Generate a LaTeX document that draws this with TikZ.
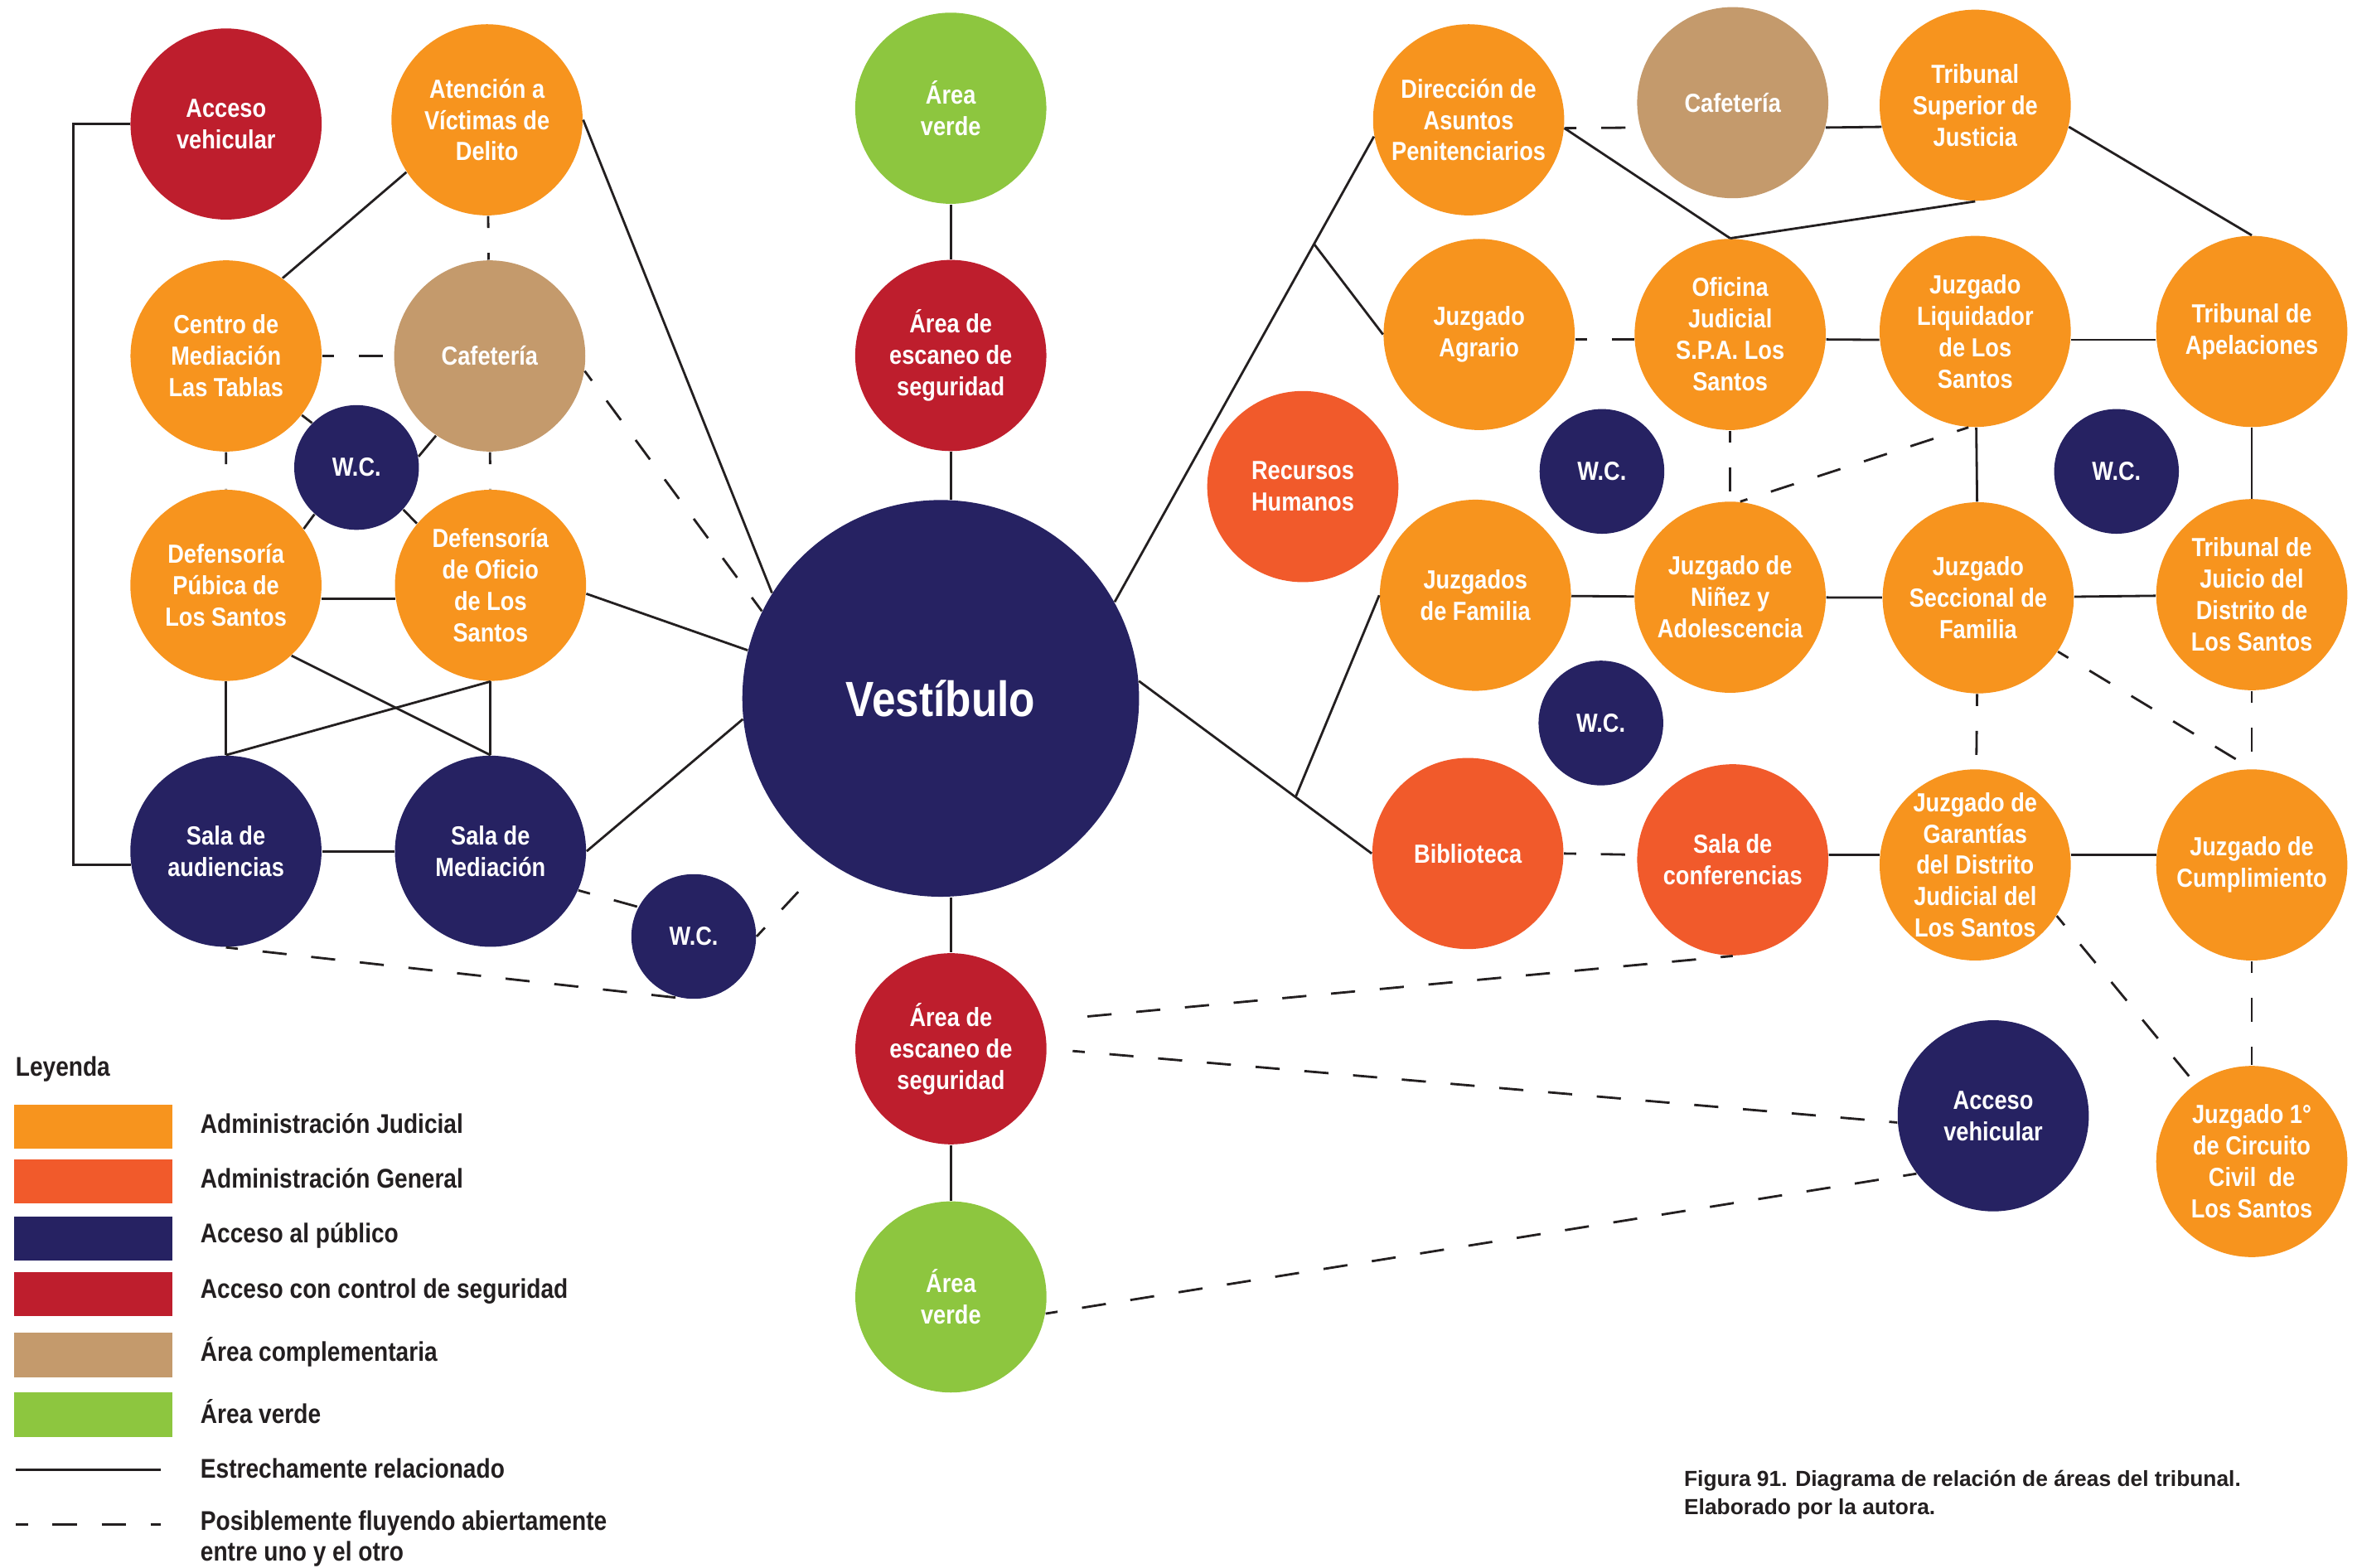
\documentclass[tikz,border=0pt]{standalone}
\usepackage{fontspec}
\usepackage{tikz}
\usetikzlibrary{calc}

\newfontfamily\areafont{Liberation Sans}[FakeStretch=0.86]
\newfontfamily\notafont{Liberation Sans}

\definecolor{colJud}{HTML}{F7941E}
\definecolor{colGen}{HTML}{F15A2B}
\definecolor{colPub}{HTML}{262262}
\definecolor{colSeg}{HTML}{BE1E2D}
\definecolor{colComp}{HTML}{C49A6C}
\definecolor{colVerde}{HTML}{8DC63F}
\definecolor{trazo}{HTML}{231F20}

\tikzset{
    area/.style={
        circle,
        inner sep=0pt,
        minimum size=2.307cm,
        align=center,
        text=white,
        font=\areafont\bfseries\fontsize{9}{10.8}\selectfont
    },
    jud/.style={area, fill=colJud},
    gen/.style={area, fill=colGen},
    pub/.style={area, fill=colPub},
    seg/.style={area, fill=colSeg},
    comp/.style={area, fill=colComp},
    verde/.style={area, fill=colVerde},
    wc/.style={pub, minimum size=1.505cm},
    rel/.style={draw=trazo, line width=0.8pt},
    flujo/.style={rel, dash pattern=on 8.3pt off 8.5pt, dash phase=4.15pt},
    muestra/.style={
        rectangle,
        inner sep=0pt,
        minimum width=1.914cm,
        minimum height=0.535cm
    },
    leyenda/.style={
        anchor=west,
        inner sep=0pt,
        align=left,
        text=trazo,
        font=\areafont\bfseries\fontsize{9.3}{10.6}\selectfont
    }
}

\begin{document}
\begin{tikzpicture}[x=0.018138cm, y=-0.018138cm]
\useasboundingbox (0,0) rectangle (1568,1043);

% bloque izquierdo
\node[seg] (accL) at (150.4,82.5) {Acceso\\vehicular};
\node[jud] (aten) at (324,79.7) {Atención a\\Víctimas de\\Delito};
\node[jud] (centro) at (150.4,236.8) {Centro de\\Mediación\\Las Tablas};
\node[comp] (cafL) at (325.8,236.8) {Cafetería};
\node[wc] (wcL) at (237.2,311) {W.C.};
\node[jud] (defP) at (150.3,389.4) {Defensoría\\Púbica de\\Los Santos};
\node[jud] (defO) at (326.3,389.4) {Defensoría\\de Oficio\\de Los\\Santos};
\node[pub] (salaAud) at (150.3,566.3) {Sala de\\audiencias};
\node[pub] (salaMed) at (326.3,566.3) {Sala de\\Mediación};
\node[wc] (wcB) at (461.5,623) {W.C.};

% eje central
\node[verde] (verdeT) at (632.5,72) {Área\\verde};
\node[seg] (escT) at (632.5,236.5) {Área de\\escaneo de\\seguridad};
\node[
    pub,
    minimum size=4.788cm,
    font=\areafont\bfseries\fontsize{17}{20}\selectfont
] (vest) at (625.8,464.6) {Vestíbulo};
\node[seg] (escB) at (632.6,697.7) {Área de\\escaneo de\\seguridad};
\node[verde] (verdeB) at (632.6,862.8) {Área\\verde};

% bloque derecho
\node[jud] (dir) at (977,79.7) {Dirección de\\Asuntos\\Penitenciarios};
\node[comp] (cafR) at (1152.7,68.3) {Cafetería};
\node[jud] (tsj) at (1314,70) {Tribunal\\Superior de\\Justicia};
\node[jud] (agr) at (984,222.5) {Juzgado\\Agrario};
\node[jud] (ofi) at (1151,222.5) {Oficina\\Judicial\\S.P.A. Los\\Santos};
\node[jud] (liq) at (1314,220.5) {Juzgado\\Liquidador\\de Los\\Santos};
\node[jud] (apel) at (1498,220.5) {Tribunal de\\Apelaciones};
\node[gen] (rrhh) at (866.7,323.7) {Recursos\\Humanos};
\node[wc] (wcR1) at (1065.7,313.6) {W.C.};
\node[wc] (wcR2) at (1408,313.6) {W.C.};
\node[jud] (fam) at (981.5,396) {Juzgados\\de Familia};
\node[jud] (nin) at (1151,397.3) {Juzgado de\\Niñez y\\Adolescencia};
\node[jud] (secc) at (1316,397.7) {Juzgado\\Seccional de\\Familia};
\node[jud] (juicio) at (1498,395.6) {Tribunal de\\Juicio del\\Distrito de\\Los Santos};
\node[wc] (wcR3) at (1065,481) {W.C.};
\node[gen] (bib) at (976.5,567.8) {Biblioteca};
\node[gen] (conf) at (1152.7,572) {Sala de\\conferencias};
\node[jud] (gar) at (1314,575.4) {Juzgado de\\Garantías\\del Distrito\\Judicial del\\Los Santos};
\node[jud] (cump) at (1498,575.4) {Juzgado de\\Cumplimiento};
\node[pub] (accR) at (1326,742.3) {Acceso\\vehicular};
\node[jud] (civil) at (1498,772.7) {Juzgado 1°\\de Circuito\\Civil\ \ de\\Los Santos};

% relaciones izquierda
\draw[rel] (accL.west) -- ++(-37.5,0) |- (salaAud.188.5);
\draw[rel] (aten.213) -- (centro.54);
\draw[flujo] (aten) -- (cafL);
\draw[rel] (aten.east) -- (vest.148);
\draw[flujo] (centro) -- (cafL);
\draw[flujo] (cafL.-9) -- (vest.154);
\draw[rel] (centro.-38) -- (wcL.135);
\draw[rel] (cafL.236) -- (wcL.10);
\draw[flujo] (centro) -- (defP);
\draw[flujo] (cafL) -- (defO);
\draw[rel] (wcL.228) -- (defP.36);
\draw[rel] (wcL.-42) -- (defO.140);
\draw[rel] (defP.-8) -- (defO.188);
\draw[rel] (defO.-5.5) -- (vest.166.5);
\draw[rel] (defP) -- (salaAud);
\draw[rel] (defO) -- (salaMed);
\draw[rel] (defP.-47.5) -- (salaMed.north);
\draw[rel] (salaAud.north) -- (defO.south);
\draw[rel] (salaAud) -- (salaMed);
\draw[rel] (salaMed.east) -- (vest.186);
\draw[flujo] (salaMed.-24) -- (wcB.152);
\draw[flujo, shorten >=0.31cm] (wcB.east) -- (vest.235);
\draw[flujo] (salaAud.south) -- (wcB.259);

% relaciones centro
\draw[rel] (verdeT) -- (escT);
\draw[rel] (escT.south) -- (escT.south |- vest.north);
\draw[rel] (vest.south -| escB.north) -- (escB.north);
\draw[rel] (escB) -- (verdeB);

% relaciones derecha
\draw[rel] (vest.29.5) -- coordinate[pos=0.769] (ramaN) (dir.190);
\draw[rel] (ramaN) -- (agr.west);
\draw[rel] (vest.5) -- coordinate[pos=0.673] (ramaS) (bib.west);
\draw[rel] (ramaS) -- (fam.west);
\draw[flujo] (dir.-5) -- (cafR.195);
\draw[rel] (cafR.-15) -- (tsj.193);
\draw[rel] (dir.-5) -- (ofi.north);
\draw[rel] (tsj.south) -- (ofi.north);
\draw[rel] (tsj.-13) -- (apel.north);
\draw[flujo] (agr.-3) -- (ofi.183);
\draw[rel] (ofi.-3) -- (liq.185);
\draw[rel] (liq.-5) -- (apel.185);
\draw[flujo] (ofi) -- (nin);
\draw[flujo] (liq.266) -- (nin.84);
\draw[rel] (liq) -- (secc);
\draw[rel] (apel) -- (juicio);
\draw[rel] (fam) -- (nin);
\draw[rel] (nin) -- (secc);
\draw[rel] (secc) -- (juicio);
\draw[flujo] (secc.-34) -- (cump.north);
\draw[flujo] (secc) -- (gar);
\draw[flujo] (juicio) -- (cump);
\draw[flujo] (bib.east) -- (conf.177);
\draw[rel] (conf.3) -- (gar.174);
\draw[rel] (gar.6) -- (cump.174);
\draw[flujo] (gar.-32) -- (civil.126);
\draw[flujo] (cump) -- (civil);
\draw[flujo, shorten >=0.30cm] (conf.south) -- (escB.17);
\draw[flujo, shorten <=0.31cm] (escB.0) -- (accR.184);
\draw[flujo] (verdeB.-10) -- (accR.217);

% leyenda
\node[leyenda] (titulo) at (10,711.5) {Leyenda};
\foreach \y/\c/\t in {
    749.5/colJud/Administración Judicial,
    786/colGen/Administración General,
    824/colPub/Acceso al público,
    861/colSeg/Acceso con control de seguridad,
    901.5/colComp/Área complementaria,
    941/colVerde/Área verde%
}{
    \node[muestra, fill=\c] (m-\c) at (62.2,\y) {};
    \node[leyenda] (t-\c) at (133,\y-2) {\t};
}
\coordinate (lineaA) at (10.5,978);
\coordinate (lineaB) at (106.7,978);
\draw[rel] (lineaA) -- (lineaB);
\node[leyenda] (tRel) at (133,977) {Estrechamente relacionado};
\coordinate (flujoA) at (10.5,1014);
\coordinate (flujoB) at (106.7,1014);
\draw[flujo] (flujoA) -- (flujoB);
\node[leyenda] (tFlujo) at (133,1023.5) {Posiblemente fluyendo abiertamente\\entre uno y el otro};

% nota
\node[
    anchor=west,
    inner sep=0pt,
    align=left,
    text=trazo,
    font=\notafont\bfseries\fontsize{7.5}{9.6}\selectfont
] (nota) at (1120,994.3) {Figura 91. Diagrama de relación de áreas del tribunal.\\Elaborado por la autora.};
\end{tikzpicture}
\end{document}
